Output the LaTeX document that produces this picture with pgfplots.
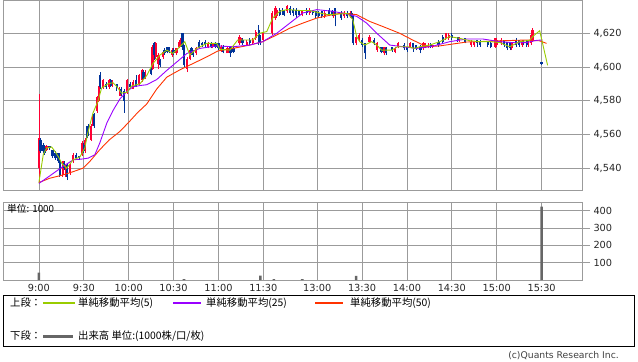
\documentclass[border=0pt]{standalone}
\usepackage{pgfplots}
\usepackage{pgfplotstable}
\pgfplotsset{compat=1.18}
\usepackage{fontspec}
\setmainfont{DejaVu Sans}
\newfontfamily\jp{Noto Sans CJK JP}
\definecolor{cup}{RGB}{255,0,51}
\definecolor{cdn}{RGB}{0,51,153}
\definecolor{mafive}{RGB}{153,204,0}
\definecolor{matwf}{RGB}{153,0,255}
\definecolor{mafifty}{RGB}{255,51,0}
\definecolor{gridc}{RGB}{155,155,155}
\definecolor{volc}{RGB}{102,102,102}

% up candles (red): index (minutes, lunch compressed), open high low close
\pgfplotstableread{
i o h l c
0 4540 4584 4532 4558
5 4551 4554 4550 4553
16 4536 4544 4535 4544
18 4537 4542 4535 4541
21 4537 4543 4536 4542
23 4544 4549 4543 4548
29 4548 4556 4547 4555
31 4550 4558 4549 4557
35 4557 4566 4556 4565
36 4566 4572 4565 4571
39 4574 4583 4573 4582
40 4580 4589 4579 4588
43 4588 4593 4587 4592
47 4588 4593 4587 4592
49 4589 4592 4588 4591
54 4583 4588 4583 4587
59 4585 4593 4584 4592
63 4587 4592 4587 4591
67 4590 4596 4589 4595
69 4592 4599 4591 4598
71 4594 4598 4593 4597
76 4599 4613 4598 4612
78 4606 4615 4605 4614
80 4602 4608 4599 4607
83 4606 4610 4605 4609
89 4607 4611 4606 4610
92 4608 4611 4607 4611
94 4612 4616 4611 4615
95 4613 4618 4612 4617
99 4599 4606 4597 4605
101 4605 4611 4604 4610
105 4608 4612 4607 4611
113 4612 4615 4611 4614
116 4612 4614 4611 4614
122 4610 4613 4609 4612
126 4608 4612 4608 4611
134 4614 4619 4613 4618
135 4615 4618 4614 4617
139 4613 4616 4613 4615
143 4614 4617 4613 4616
145 4617 4622 4616 4621
150 4616 4621 4615 4620
156 4620 4633 4619 4632
158 4629 4636 4628 4635
159 4630 4635 4629 4634
166 4633 4637 4632 4636
176 4631 4634 4630 4633
181 4632 4635 4631 4634
191 4630 4633 4629 4632
197 4630 4633 4629 4632
204 4630 4633 4629 4632
208 4630 4633 4629 4632
212 4614 4619 4613 4618
214 4616 4620 4615 4619
221 4615 4619 4614 4618
226 4610 4615 4609 4614
231 4608 4612 4607 4612
238 4609 4612 4608 4611
240 4612 4615 4611 4614
248 4612 4615 4611 4614
257 4611 4615 4610 4614
258 4612 4614 4611 4613
260 4612 4614 4611 4613
263 4612 4613 4611 4613
272 4617 4620 4616 4620
274 4617 4620 4616 4619
281 4616 4618 4615 4618
289 4613 4616 4612 4615
291 4613 4615 4612 4615
305 4612 4617 4611 4617
306 4613 4617 4612 4616
309 4614 4617 4613 4616
316 4611 4614 4610 4614
323 4613 4616 4612 4615
327 4613 4616 4612 4615
329 4614 4620 4613 4619
330 4616 4623 4615 4622
}\upc

% down candles (blue)
\pgfplotstableread{
i o h l c
1 4557 4558 4549 4550
3 4554 4555 4549 4550
4 4552 4553 4548 4549
7 4553 4553 4551 4552
9 4551 4551 4546 4547
11 4549 4550 4545 4546
13 4549 4549 4543 4544
14 4544 4545 4535 4536
17 4543 4544 4539 4540
19 4542 4543 4533 4535
25 4548 4549 4545 4546
27 4547 4547 4545 4546
30 4554 4555 4549 4550
32 4564 4565 4557 4558
33 4565 4566 4559 4560
37 4572 4573 4564 4565
41 4595 4597 4587 4588
45 4590 4591 4587 4588
48 4592 4593 4588 4589
52 4590 4590 4586 4588
55 4587 4588 4583 4584
57 4586 4587 4573 4580
61 4590 4591 4587 4588
65 4592 4595 4588 4589
70 4597 4598 4592 4593
75 4599 4600 4595 4596
77 4614 4615 4604 4607
81 4604 4605 4600 4601
84 4610 4611 4607 4608
86 4612 4612 4608 4609
87 4611 4612 4608 4609
90 4610 4611 4607 4608
96 4620 4620 4610 4612
97 4612 4613 4600 4601
102 4611 4612 4607 4608
103 4610 4610 4606 4607
107 4615 4616 4611 4612
109 4614 4615 4612 4613
111 4615 4616 4612 4613
115 4614 4615 4611 4612
118 4614 4615 4611 4612
120 4614 4614 4610 4611
123 4612 4613 4608 4609
128 4612 4612 4606 4608
130 4611 4612 4608 4609
136 4616 4617 4613 4614
141 4616 4617 4613 4614
147 4622 4625 4613 4615
148 4618 4619 4613 4614
161 4634 4635 4630 4631
163 4634 4635 4631 4632
164 4633 4634 4630 4631
168 4635 4636 4631 4632
170 4634 4635 4630 4632
172 4634 4635 4629 4631
174 4633 4634 4630 4631
179 4634 4635 4631 4632
183 4634 4634 4631 4632
185 4633 4633 4629 4630
187 4632 4633 4629 4630
189 4633 4633 4629 4630
194 4634 4635 4630 4631
196 4633 4634 4630 4631
198 4635 4635 4624 4631
202 4632 4633 4628 4629
206 4632 4633 4629 4630
209 4632 4633 4629 4630
210 4631 4631 4613 4614
216 4616 4617 4612 4613
218 4614 4614 4605 4608
224 4616 4617 4613 4614
229 4612 4612 4608 4609
232 4611 4612 4607 4608
236 4612 4612 4609 4610
244 4613 4614 4610 4611
246 4612 4612 4609 4610
250 4614 4614 4609 4611
252 4613 4613 4610 4611
255 4612 4613 4608 4610
262 4613 4614 4611 4612
267 4615 4616 4612 4613
270 4618 4619 4614 4615
276 4619 4620 4616 4617
280 4618 4618 4615 4616
285 4617 4617 4614 4615
293 4616 4616 4612 4614
295 4615 4616 4612 4613
300 4615 4615 4612 4613
302 4614 4615 4611 4612
311 4616 4616 4612 4613
313 4615 4615 4610 4611
315 4614 4614 4610 4611
319 4616 4617 4612 4613
321 4616 4616 4612 4613
324 4615 4616 4613 4614
326 4616 4616 4612 4613
336 4603 4603 4601 4602
}\dnc

\pgfplotsset{
  panel/.style={
    scale only axis, width=579bp, xmin=-24, xmax=363,
    anchor=north west, clip=true,
    axis line style={gridc, line width=0.8bp},
    grid=major, grid style={gridc, line width=0.8bp},
    xtick={0,30,60,90,120,150,186,216,246,276,306,336},
    xtick style={draw=none},
    ytick pos=right, yticklabel pos=right,
    ytick style={gridc, line width=0.8bp},
    tick align=outside, major tick length=8bp,
    scaled y ticks=false,
    ticklabel style={font=\fontsize{9.8}{11}\selectfont, text=black!85},
    xticklabel style={yshift=7bp},
    /pgf/number format/assume math mode=true,
    /pgf/number format/1000 sep={,},
  }
}

\begin{document}
\begin{tikzpicture}
\useasboundingbox (0,0) rectangle (638bp,-362bp);

% ---- price panel ----
\begin{axis}[panel, at={(3bp,0bp)}, height=190bp,
  ymin=4527.1, ymax=4639.7,
  ytick={4540,4560,4580,4600,4620},
  xticklabels={}]
\addplot[cup, line width=0.8bp, quiver={u=0, v=\thisrow{h}-\thisrow{l}}] table[x=i, y=l] {\upc};
\addplot[cup, line width=2.3bp, quiver={u=0, v=\thisrow{c}-\thisrow{o}}] table[x=i, y=o] {\upc};
\addplot[cdn, line width=0.8bp, quiver={u=0, v=\thisrow{h}-\thisrow{l}}] table[x=i, y=l] {\dnc};
\addplot[cdn, line width=2.3bp, quiver={u=0, v=\thisrow{o}-\thisrow{c}}] table[x=i, y=c] {\dnc};
% 50-period MA
\addplot[mafifty, line width=0.9bp] coordinates {
(0,4531.5) (7,4534) (16,4536) (23,4538) (29.4,4540) (34,4544) (40.7,4551) (47,4556.8)
(54,4561.7) (60,4567.2) (66,4573) (72,4578) (78.8,4587) (85.5,4594) (94.2,4598.3)
(102.9,4602) (112.2,4606) (119.6,4609.5) (129.6,4611) (141,4613) (149.6,4615)
(159,4619) (167.7,4623) (176.4,4626) (185.7,4629) (196.4,4631) (203,4632)
(212.4,4631) (221.1,4627) (229.8,4624) (241.1,4620) (249.8,4616) (254.5,4614)
(259.2,4612) (267.9,4612.5) (285.9,4614.8) (308,4615.5) (326,4616) (334.7,4615.5) (339.3,4614)
};
% 25-period MA
\addplot[matwf, line width=0.9bp] coordinates {
(0,4531) (7.3,4535.5) (16,4541) (23,4545) (29.4,4545.5) (33,4546) (37.4,4548)
(40.7,4555) (45.4,4566.8) (49.4,4574) (54.1,4581) (58.7,4585.4) (62.8,4588.2)
(67.5,4589) (72.1,4589.5) (78.8,4592.6) (85.5,4598) (92.2,4603) (98.9,4608)
(107.5,4611) (118.9,4612.5) (129.6,4612) (141,4613) (149.6,4615) (159,4620)
(167.7,4626) (176.4,4632) (185.7,4634) (196.4,4633) (205.7,4631.4) (212.4,4630)
(219.1,4626) (225.8,4620) (234.5,4613) (243.2,4612) (252.5,4611) (263.2,4612.3)
(274.5,4615) (285.9,4616.6) (296.6,4616.6) (308,4615) (319.3,4614.3) (326,4614.5)
(332.7,4615.8) (336.7,4616)
};
% 5-period MA
\addplot[mafive, line width=0.9bp] coordinates {
(0,4531.5) (2.9,4548) (5.1,4552) (8.5,4552.6) (10.7,4550) (12.9,4547) (15.2,4543)
(18.5,4540) (22.9,4545) (27.4,4546.7) (30.7,4552) (32.7,4561) (36.1,4572.7)
(39.4,4579.5) (41.9,4587.5) (46.1,4590) (49.4,4590.7) (52.1,4588.4) (55.2,4584.5)
(58.8,4585) (61.9,4588.7) (67.5,4590) (72.1,4595) (76.2,4602) (80.8,4607)
(85.5,4610) (89.5,4608) (94.2,4612) (97.5,4615) (100.9,4607) (105.5,4611)
(112.2,4614) (118.9,4614) (120.9,4610.5) (127.6,4610) (132.9,4616) (137.6,4616)
(143,4616) (147.6,4620) (152.3,4621) (156.3,4629) (161,4633) (165.7,4634)
(174.3,4633.5) (181,4633.5) (187.7,4632) (193,4631) (206.4,4631.7) (209.8,4628)
(212.4,4618) (214.4,4615) (217.8,4613) (222.4,4615) (225.8,4613) (229.1,4610)
(235.8,4610) (239.8,4612) (246.5,4612) (251.2,4611) (254.5,4612) (261.2,4613)
(267.9,4615) (274.5,4618) (281.2,4617) (287.9,4615.6) (294.6,4615) (301.3,4615)
(308,4614.5) (314.6,4612) (321.3,4615) (328,4615.8) (330,4618) (334.7,4621.5) (340,4601)
};
\end{axis}

% ---- volume panel ----
\begin{axis}[panel, at={(3bp,-202bp)}, height=78bp,
  ymin=0, ymax=450, ytick={100,200,300,400},
  xticklabels={9:00,9:30,10:00,10:30,11:00,11:30,13:00,13:30,14:00,14:30,15:00,15:30}]
\addplot[ybar, bar width=2.6bp, fill=volc, draw=none] coordinates {
(0,42) (97,5) (148,25) (157,5) (176,5) (212,24) (336,424)
};
\end{axis}

\node[anchor=west, inner sep=0pt, font=\jp\fontsize{9.8}{11}\selectfont] at (7bp,-209bp) {単位: 1000};

% ---- legend box ----
\draw[black, line width=0.8bp] (3.4bp,-295bp) rectangle (634.6bp,-346bp);
\begin{scope}[every node/.style={anchor=west, inner sep=0pt, font=\jp\fontsize{10.4}{12}\selectfont}]
\node at (10bp,-303bp) {上段：};
\draw[mafive, line width=1.1bp] (43bp,-303bp) -- (75bp,-303bp);
\node at (78bp,-303bp) {単純移動平均(5)};
\draw[matwf, line width=1.1bp] (173bp,-303bp) -- (201bp,-303bp);
\node at (206bp,-303bp) {単純移動平均(25)};
\draw[mafifty, line width=1.1bp] (315bp,-303bp) -- (343bp,-303bp);
\node at (350bp,-303bp) {単純移動平均(50)};
\node at (10bp,-336bp) {下段：};
\draw[volc, line width=3bp] (43bp,-336bp) -- (73bp,-336bp);
\node at (78bp,-336bp) {出来高 単位:(1000株/口/枚)};
\end{scope}

\node[anchor=east, inner sep=0pt, text=black!75, font=\fontsize{9.3}{10}\selectfont] at (619bp,-356bp) {(c)Quants Research Inc.};
\end{tikzpicture}
\end{document}
